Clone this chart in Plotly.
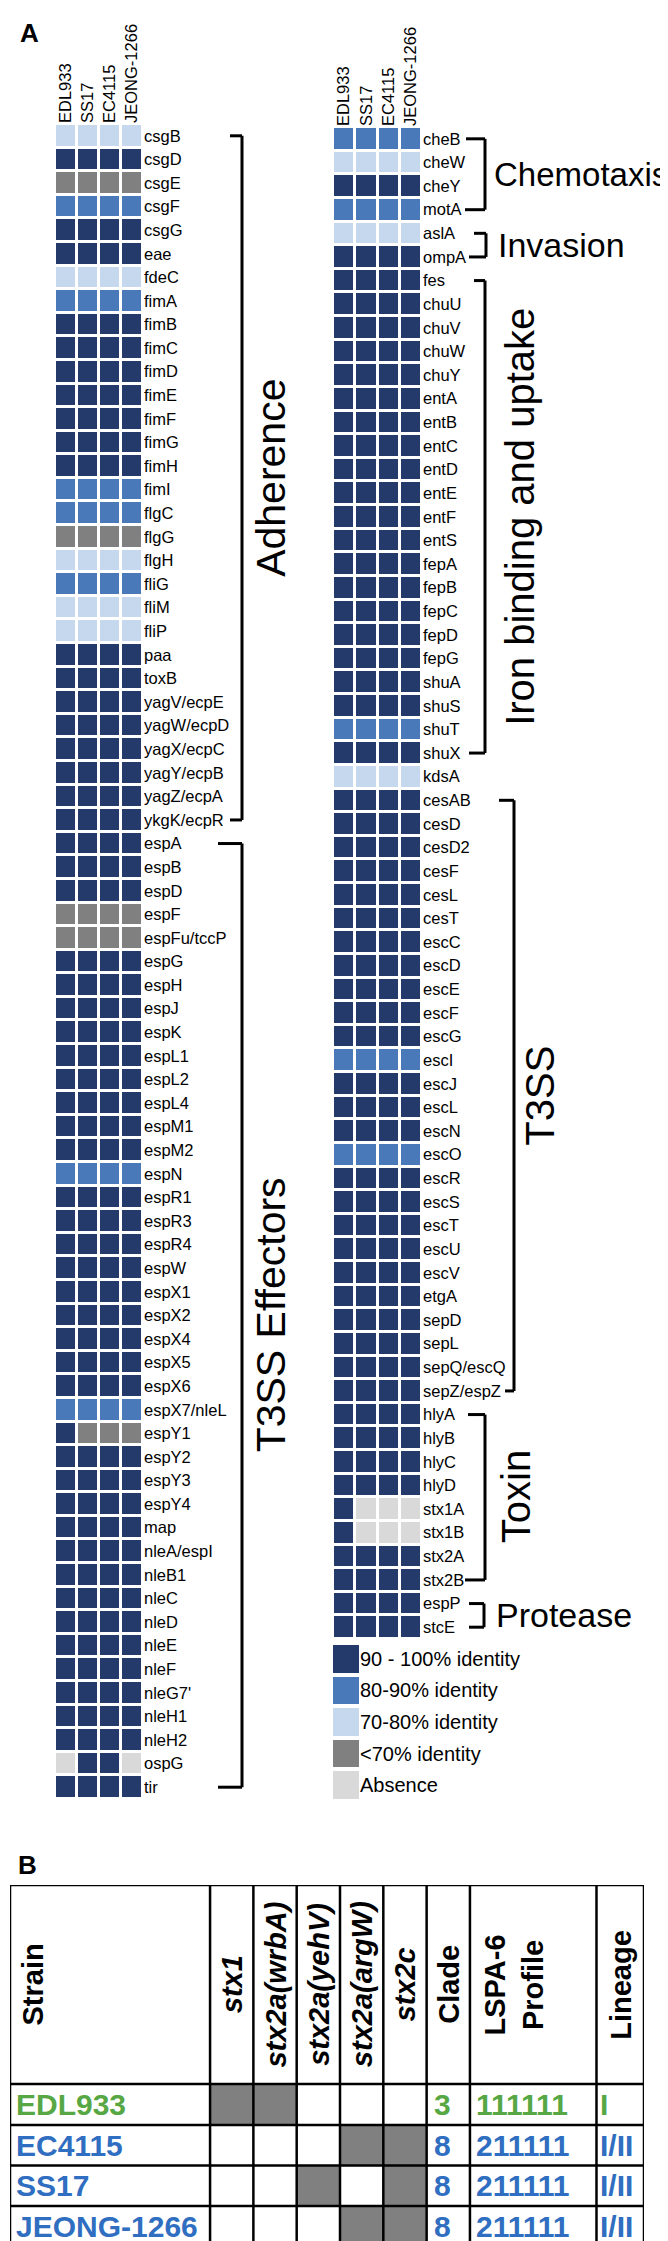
import plotly.graph_objects as go

W, H = 668, 2241
FONT = "Liberation Sans, Arial, sans-serif"

# ---------------- data ----------------
strains = ["EDL933", "SS17", "EC4115", "JEONG-1266"]

left_genes = ["csgB", "csgD", "csgE", "csgF", "csgG", "eae", "fdeC", "fimA", "fimB", "fimC",
              "fimD", "fimE", "fimF", "fimG", "fimH", "fimI", "flgC", "flgG", "flgH", "fliG",
              "fliM", "fliP", "paa", "toxB", "yagV/ecpE", "yagW/ecpD", "yagX/ecpC", "yagY/ecpB",
              "yagZ/ecpA", "ykgK/ecpR",
              "espA", "espB", "espD", "espF", "espFu/tccP", "espG", "espH", "espJ", "espK",
              "espL1", "espL2", "espL4", "espM1", "espM2", "espN", "espR1", "espR3", "espR4",
              "espW", "espX1", "espX2", "espX4", "espX5", "espX6", "espX7/nleL", "espY1",
              "espY2", "espY3", "espY4", "map", "nleA/espI", "nleB1", "nleC", "nleD", "nleE",
              "nleF", "nleG7'", "nleH1", "nleH2", "ospG", "tir"]

# identity class: 4 = 90-100%, 3 = 80-90%, 2 = 70-80%, 1 = <70%, 0 = absence
left_identity = [
    [2, 2, 2, 2], [4, 4, 4, 4], [1, 1, 1, 1], [3, 3, 3, 3], [4, 4, 4, 4], [4, 4, 4, 4],
    [2, 2, 2, 2], [3, 3, 3, 3], [4, 4, 4, 4], [4, 4, 4, 4], [4, 4, 4, 4], [4, 4, 4, 4],
    [4, 4, 4, 4], [4, 4, 4, 4], [4, 4, 4, 4], [3, 3, 3, 3], [3, 3, 3, 3], [1, 1, 1, 1],
    [2, 2, 2, 2], [3, 3, 3, 3], [2, 2, 2, 2], [2, 2, 2, 2], [4, 4, 4, 4], [4, 4, 4, 4],
    [4, 4, 4, 4], [4, 4, 4, 4], [4, 4, 4, 4], [4, 4, 4, 4], [4, 4, 4, 4], [4, 4, 4, 4],
    [4, 4, 4, 4], [4, 4, 4, 4], [4, 4, 4, 4], [1, 1, 1, 1], [1, 1, 1, 1], [4, 4, 4, 4],
    [4, 4, 4, 4], [4, 4, 4, 4], [4, 4, 4, 4], [4, 4, 4, 4], [4, 4, 4, 4], [4, 4, 4, 4],
    [4, 4, 4, 4], [4, 4, 4, 4], [3, 3, 3, 3], [4, 4, 4, 4], [4, 4, 4, 4], [4, 4, 4, 4],
    [4, 4, 4, 4], [4, 4, 4, 4], [4, 4, 4, 4], [4, 4, 4, 4], [4, 4, 4, 4], [4, 4, 4, 4],
    [3, 3, 3, 3], [4, 1, 1, 1], [4, 4, 4, 4], [4, 4, 4, 4], [4, 4, 4, 4], [4, 4, 4, 4],
    [4, 4, 4, 4], [4, 4, 4, 4], [4, 4, 4, 4], [4, 4, 4, 4], [4, 4, 4, 4], [4, 4, 4, 4],
    [4, 4, 4, 4], [4, 4, 4, 4], [4, 4, 4, 4], [0, 4, 4, 0], [4, 4, 4, 4],
]

right_genes = ["cheB", "cheW", "cheY", "motA", "aslA", "ompA", "fes", "chuU", "chuV", "chuW",
               "chuY", "entA", "entB", "entC", "entD", "entE", "entF", "entS", "fepA", "fepB",
               "fepC", "fepD", "fepG", "shuA", "shuS", "shuT", "shuX", "kdsA", "cesAB", "cesD",
               "cesD2", "cesF", "cesL", "cesT", "escC", "escD", "escE", "escF", "escG", "escI",
               "escJ", "escL", "escN", "escO", "escR", "escS", "escT", "escU", "escV", "etgA",
               "sepD", "sepL", "sepQ/escQ", "sepZ/espZ", "hlyA", "hlyB", "hlyC", "hlyD",
               "stx1A", "stx1B", "stx2A", "stx2B", "espP", "stcE"]

right_identity = [
    [3, 3, 3, 3], [2, 2, 2, 2], [4, 4, 4, 4], [3, 3, 3, 3], [2, 2, 2, 2], [4, 4, 4, 4],
    [4, 4, 4, 4], [4, 4, 4, 4], [4, 4, 4, 4], [4, 4, 4, 4], [4, 4, 4, 4], [4, 4, 4, 4],
    [4, 4, 4, 4], [4, 4, 4, 4], [4, 4, 4, 4], [4, 4, 4, 4], [4, 4, 4, 4], [4, 4, 4, 4],
    [4, 4, 4, 4], [4, 4, 4, 4], [4, 4, 4, 4], [4, 4, 4, 4], [4, 4, 4, 4], [4, 4, 4, 4],
    [4, 4, 4, 4], [3, 3, 3, 3], [4, 4, 4, 4], [2, 2, 2, 2], [4, 4, 4, 4], [4, 4, 4, 4],
    [4, 4, 4, 4], [4, 4, 4, 4], [4, 4, 4, 4], [4, 4, 4, 4], [4, 4, 4, 4], [4, 4, 4, 4],
    [4, 4, 4, 4], [4, 4, 4, 4], [4, 4, 4, 4], [3, 3, 3, 3], [4, 4, 4, 4], [4, 4, 4, 4],
    [4, 4, 4, 4], [3, 3, 3, 3], [4, 4, 4, 4], [4, 4, 4, 4], [4, 4, 4, 4], [4, 4, 4, 4],
    [4, 4, 4, 4], [4, 4, 4, 4], [4, 4, 4, 4], [4, 4, 4, 4], [4, 4, 4, 4], [4, 4, 4, 4],
    [4, 4, 4, 4], [4, 4, 4, 4], [4, 4, 4, 4], [4, 4, 4, 4], [4, 0, 0, 0], [4, 0, 0, 0],
    [4, 4, 4, 4], [4, 4, 4, 4], [4, 4, 4, 4], [4, 4, 4, 4],
]

left_groups = [("Adherence", 0, 29), ("T3SS Effectors", 30, 70)]
right_groups = [("Chemotaxis", 0, 3), ("Invasion", 4, 5), ("Iron binding and uptake", 6, 26),
                ("T3SS", 28, 53), ("Toxin", 54, 61), ("Protease", 62, 63)]

legend_labels = ["90 - 100% identity", "80-90% identity", "70-80% identity",
                 "<70% identity", "Absence"]
legend_classes = [4, 3, 2, 1, 0]

# panel B table
table_headers = ["Strain", "stx1", "stx2a(wrbA)", "stx2a(yehV)", "stx2a(argW)", "stx2c",
                 "Clade", "LSPA-6<br>Profile", "Lineage"]
table_strains = ["EDL933", "EC4115", "SS17", "JEONG-1266"]
stx_presence = [[1, 1, 0, 0, 0],
                [0, 0, 0, 1, 1],
                [0, 0, 1, 0, 1],
                [0, 0, 0, 1, 1]]
clades = ["3", "8", "8", "8"]
lspa6 = ["111111", "211111", "211111", "211111"]
lineages = ["I", "I/II", "I/II", "I/II"]

# ---------------- styles ----------------
class_colors = ["#d9d9d9", "#808080", "#c5d8ee", "#4a79b9", "#243a6a"]  # class 0..4
strain_text_colors = ["#57a845", "#2f6ec0", "#2f6ec0", "#2f6ec0"]
table_col_widths = [200, 43.3, 43.3, 43.3, 43.3, 43.3, 43.3, 126.5, 47.5]
table_row_heights = [199, 41, 40.5, 40.5, 41]


def fx(px):
    return px / W


def fy(py):
    return 1 - py / H


cs = []
for i, c in enumerate(class_colors):
    cs += [[i / 5, c], [(i + 1) / 5, c]]

fig = go.Figure()

# left heatmap
fig.add_trace(go.Heatmap(z=left_identity, x=list(range(4)), y=list(range(len(left_genes))),
                         colorscale=cs, zmin=-0.5, zmax=4.5, showscale=False, xgap=3, ygap=3,
                         xaxis="x", yaxis="y", hoverinfo="skip"))
# right heatmap
fig.add_trace(go.Heatmap(z=right_identity, x=list(range(4)), y=list(range(len(right_genes))),
                         colorscale=cs, zmin=-0.5, zmax=4.5, showscale=False, xgap=3, ygap=3,
                         xaxis="x2", yaxis="y2", hoverinfo="skip"))
# legend swatches
fig.add_trace(go.Heatmap(z=[[c] for c in legend_classes], x=[0], y=list(range(len(legend_classes))),
                         colorscale=cs, zmin=-0.5, zmax=4.5, showscale=False, ygap=4,
                         xaxis="x3", yaxis="y3", hoverinfo="skip"))

# table grey cells
col_edges = [0]
for w in table_col_widths:
    col_edges.append(col_edges[-1] + w)
row_edges = [0]
for h in table_row_heights:
    row_edges.append(row_edges[-1] + h)
tz = [[None] * len(table_headers)]
for pres in stx_presence:
    tz.append([None] + [1 if p else None for p in pres] + [None, None, None])
fig.add_trace(go.Heatmap(z=tz, x=col_edges, y=row_edges, colorscale=[[0, "#808080"], [1, "#808080"]],
                         zmin=0, zmax=1, showscale=False, xaxis="x4", yaxis="y4", hoverinfo="skip"))

tickfont = dict(family=FONT, size=16.5, color="black")
common = dict(showgrid=False, zeroline=False, showline=False, ticks="", automargin=False)

fig.update_layout(
    width=W, height=H, margin=dict(l=0, r=0, t=0, b=0),
    paper_bgcolor="white", plot_bgcolor="white", template="none",
    font=dict(family=FONT, color="black"),
    xaxis=dict(domain=[fx(47), fx(135)], range=[-0.5, 3.5], tickvals=list(range(4)),
               ticktext=strains, side="top", tickangle=-90, tickfont=tickfont, anchor="y", **common),
    yaxis=dict(domain=[fy(1791), fy(116)], range=[len(left_genes) - 0.5, -0.5],
               tickvals=list(range(len(left_genes))), ticktext=left_genes, side="right",
               tickfont=tickfont, anchor="x", **common),
    xaxis2=dict(domain=[fx(325), fx(414)], range=[-0.5, 3.5], tickvals=list(range(4)),
                ticktext=strains, side="top", tickangle=-90, tickfont=tickfont, anchor="y2", **common),
    yaxis2=dict(domain=[fy(1631), fy(119)], range=[len(right_genes) - 0.5, -0.5],
                tickvals=list(range(len(right_genes))), ticktext=right_genes, side="right",
                tickfont=tickfont, anchor="x2", **common),
    xaxis3=dict(domain=[fx(325), fx(351)], range=[-0.5, 0.5], showticklabels=False,
                anchor="y3", **common),
    yaxis3=dict(domain=[fy(1793), fy(1635)], range=[len(legend_classes) - 0.5, -0.5],
                tickvals=list(range(len(legend_labels))), ticktext=legend_labels, side="right",
                tickfont=dict(family=FONT, size=20, color="black"), anchor="x3", **common),
    xaxis4=dict(domain=[fx(2), fx(636)], range=[0, col_edges[-1]], showticklabels=False,
                anchor="y4", **common),
    yaxis4=dict(domain=[fy(2239), fy(1877)], range=[row_edges[-1], 0], showticklabels=False,
                anchor="x4", **common),
)

shapes = []
annotations = []

# brackets + group labels (left)
LW = 3
left_brackets = {"Adherence": (222, 222, 234, 263, 41), "T3SS Effectors": (210, 210, 234, 263, 41)}
for name, a, b in left_groups:
    xt0, xb0, xv, xl, fs = left_brackets[name]
    shapes.append(dict(type="line", xref="paper", yref="y", x0=fx(xt0), x1=fx(xv), y0=a, y1=a,
                       line=dict(color="black", width=LW)))
    shapes.append(dict(type="line", xref="paper", yref="y", x0=fx(xv), x1=fx(xv), y0=a, y1=b,
                       line=dict(color="black", width=LW)))
    shapes.append(dict(type="line", xref="paper", yref="y", x0=fx(xb0), x1=fx(xv), y0=b, y1=b,
                       line=dict(color="black", width=LW)))
    annotations.append(dict(text=name, xref="paper", yref="y", x=fx(xl), y=(a + b) / 2,
                            textangle=-90, showarrow=False, xanchor="center", yanchor="middle",
                            font=dict(family=FONT, size=fs, color="black")))

# right brackets: (top tick start, bottom tick start, vertical x, label x, font, angle, anchor)
right_brackets = {
    "Chemotaxis": (458, 457, 477, 484, 33, 0, "left"),
    "Invasion": (466, 461, 478, 488, 34, 0, "left"),
    "Iron binding and uptake": (466, 461, 477, 512, 40, -90, "center"),
    "T3SS": (491, 497, 506, 532, 40, -90, "center"),
    "Toxin": (460, 457, 477, 508, 40, -90, "center"),
    "Protease": (461, 461, 476, 486, 34, 0, "left"),
}
for name, a, b in right_groups:
    xt0, xb0, xv, xl, fs, ang, anc = right_brackets[name]
    shapes.append(dict(type="line", xref="paper", yref="y2", x0=fx(xt0), x1=fx(xv), y0=a, y1=a,
                       line=dict(color="black", width=LW)))
    shapes.append(dict(type="line", xref="paper", yref="y2", x0=fx(xv), x1=fx(xv), y0=a, y1=b,
                       line=dict(color="black", width=LW)))
    shapes.append(dict(type="line", xref="paper", yref="y2", x0=fx(xb0), x1=fx(xv), y0=b, y1=b,
                       line=dict(color="black", width=LW)))
    annotations.append(dict(text=name, xref="paper", yref="y2", x=fx(xl), y=(a + b) / 2,
                            textangle=ang, showarrow=False, xanchor=anc, yanchor="middle",
                            font=dict(family=FONT, size=fs, color="black")))

# panel letters
annotations.append(dict(text="<b>A</b>", xref="paper", yref="paper", x=fx(10), y=fy(25),
                        xanchor="left", yanchor="middle", showarrow=False,
                        font=dict(family=FONT, size=26, color="black")))
annotations.append(dict(text="<b>B</b>", xref="paper", yref="paper", x=fx(8), y=fy(1857),
                        xanchor="left", yanchor="middle", showarrow=False,
                        font=dict(family=FONT, size=26, color="black")))

# table grid lines
TL = 2.5
for xe in col_edges:
    shapes.append(dict(type="line", xref="x4", yref="y4", x0=xe, x1=xe, y0=0, y1=row_edges[-1],
                       line=dict(color="black", width=TL)))
for ye in row_edges:
    shapes.append(dict(type="line", xref="x4", yref="y4", x0=0, x1=col_edges[-1], y0=ye, y1=ye,
                       line=dict(color="black", width=TL)))

# table header texts
hc = (row_edges[0] + row_edges[1]) / 2
for j, htxt in enumerate(table_headers):
    cx = (col_edges[j] + col_edges[j + 1]) / 2
    if j == 0:
        txt = "<b>" + htxt + "</b>"
        cx = 22
    elif 1 <= j <= 5:
        txt = "<b><i>" + htxt + "</i></b>"
    else:
        txt = "<b>" + htxt + "</b>"
    if j == 7:
        cx = col_edges[j] + 44
    annotations.append(dict(text=txt, xref="x4", yref="y4", x=cx, y=hc, textangle=-90,
                            showarrow=False, xanchor="center", yanchor="middle",
                            font=dict(family=FONT, size=29, color="black")))

# table body texts
for i, s in enumerate(table_strains):
    yc = (row_edges[i + 1] + row_edges[i + 2]) / 2
    col = strain_text_colors[i]
    cells = [(s, col_edges[0] + 4), (clades[i], col_edges[6] + 5), (lspa6[i], col_edges[7] + 4),
             (lineages[i], col_edges[8] + 2)]
    for txt, xx in cells:
        annotations.append(dict(text="<b>" + txt + "</b>", xref="x4", yref="y4", x=xx, y=yc,
                                showarrow=False, xanchor="left", yanchor="middle",
                                font=dict(family=FONT, size=30, color=col)))

fig.update_layout(shapes=shapes, annotations=annotations)
fig.write_html("out.html")
